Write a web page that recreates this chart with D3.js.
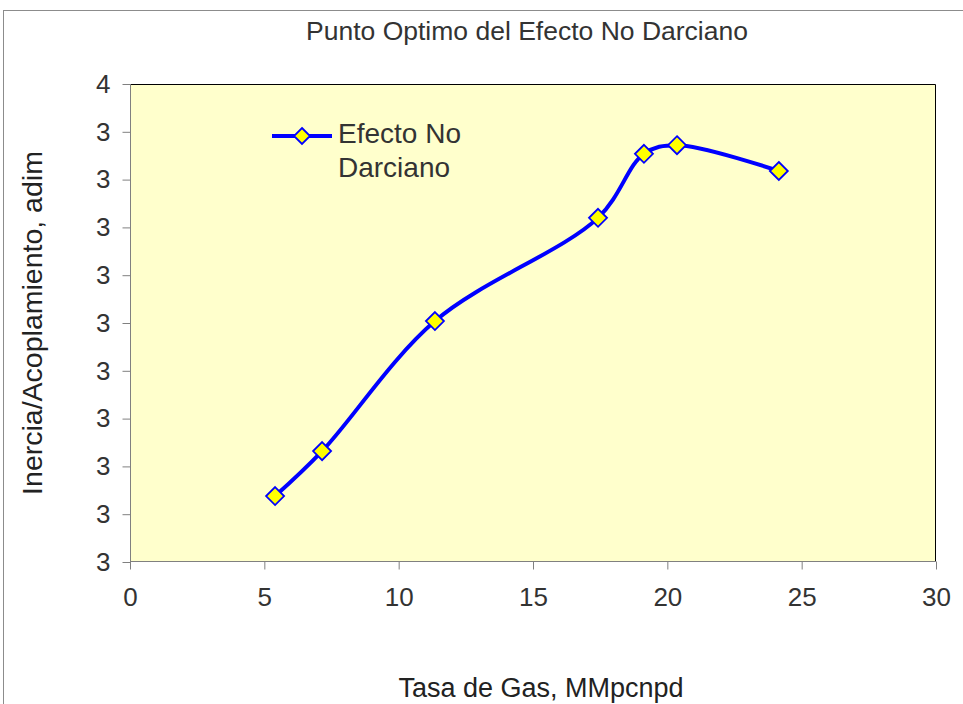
<!DOCTYPE html>
<html>
<head>
<meta charset="utf-8">
<script src="https://cdn.jsdelivr.net/npm/d3@7"></script>
<style>
  html, body { margin: 0; padding: 0; background: #fff; }
  svg { display: block; font-family: "Liberation Sans", Arial, sans-serif; }
</style>
</head>
<body>
<script>
// Gas rate (MMpcnpd) against inertia/coupling ratio
const gasRate = [5.40, 7.15, 11.35, 17.42, 19.13, 20.36, 24.15];
const inertia = [3.069, 3.116, 3.252, 3.360, 3.427, 3.436, 3.409];
const xTicks = [0, 5, 10, 15, 20, 25, 30];
const yTicks = [3.0, 3.05, 3.1, 3.15, 3.2, 3.25, 3.3, 3.35, 3.4, 3.45, 3.5];
const seriesName = ["Efecto No", "Darciano"];
const chartTitle = "Punto Optimo del Efecto No Darciano";
const xTitle = "Tasa de Gas, MMpcnpd";
const yTitle = "Inercia/Acoplamiento, adim";

const W = 963, H = 704;
const plot = { left: 130, top: 84, right: 936, bottom: 562 };
const FONT = "'Liberation Sans', Arial, sans-serif";

const svg = d3.select("body").append("svg").attr("width", W).attr("height", H);

// outer chart frame
svg.append("rect")
  .attr("x", 3.5).attr("y", 10.5).attr("width", W + 10).attr("height", H + 10)
  .attr("fill", "#fff").attr("stroke", "#8c8c8c").attr("stroke-width", 1);

const x = d3.scaleLinear().domain([0, 30]).range([plot.left, plot.right]);
const y = d3.scaleLinear().domain([3.0, 3.5]).range([plot.bottom, plot.top]);

// plot area
svg.append("rect")
  .attr("x", plot.left).attr("y", plot.top)
  .attr("width", plot.right - plot.left).attr("height", plot.bottom - plot.top)
  .attr("fill", "#FFFFCC");
svg.append("path")
  .attr("d", `M${plot.left},${plot.top + 0.5}H${plot.right - 0.5}V${plot.bottom}`)
  .attr("fill", "none").attr("stroke", "#000").attr("stroke-width", 1);

const fmtY = d => String(Math.round(d + 1e-9));

const yAxis = d3.axisLeft(y).tickValues(yTicks).tickFormat(fmtY).tickSize(8).tickPadding(12);
const gy = svg.append("g").attr("transform", `translate(${plot.left + 0.5},0)`).call(yAxis);

const xAxis = d3.axisBottom(x).tickValues(xTicks).tickFormat(d3.format("d")).tickSize(8).tickPadding(18);
const gx = svg.append("g").attr("transform", `translate(0,${plot.bottom - 0.5})`).call(xAxis);

[gx, gy].forEach(g => {
  g.select(".domain").attr("stroke", "#808080");
  g.selectAll(".tick line").attr("stroke", "#808080");
  g.selectAll(".tick text").attr("fill", "#333").style("font-size", "26px")
    .style("font-family", FONT);
});
gx.select(".domain").attr("d", `M${plot.left},0H${plot.right}`);
gy.select(".domain").attr("d", `M0,${plot.top}V${plot.bottom}`);

// titles
svg.append("text").attr("x", 527).attr("y", 40).attr("text-anchor", "middle")
  .attr("fill", "#333").style("font-size", "26.5px").text(chartTitle);
svg.append("text").attr("x", 541).attr("y", 697).attr("text-anchor", "middle")
  .attr("fill", "#222").style("font-size", "27px").text(xTitle);
svg.append("text").attr("transform", `translate(42,${(plot.top + plot.bottom) / 2}) rotate(-90)`)
  .attr("text-anchor", "middle").attr("fill", "#222").style("font-size", "28.5px").text(yTitle);

// series line
const pts = gasRate.map((g, i) => [x(g), y(inertia[i])]);
svg.append("path")
  .attr("d", d3.line().curve(d3.curveCatmullRom.alpha(0.5))(pts))
  .attr("fill", "none").attr("stroke", "#0000FF").attr("stroke-width", 4)
  .attr("stroke-linejoin", "round");

const diamond = (cx, cy, r) => `M${cx},${cy - r}L${cx + r},${cy}L${cx},${cy + r}L${cx - r},${cy}Z`;

svg.append("g").selectAll("path").data(pts).join("path")
  .attr("d", d => diamond(d[0], d[1], 9))
  .attr("fill", "#FFFF00").attr("stroke", "#0000FF").attr("stroke-width", 1.8);

// legend
const lg = svg.append("g");
lg.append("line").attr("x1", 272).attr("x2", 332).attr("y1", 136).attr("y2", 136)
  .attr("stroke", "#0000FF").attr("stroke-width", 4);
lg.append("path").attr("d", diamond(302, 136, 8))
  .attr("fill", "#FFFF00").attr("stroke", "#0000FF").attr("stroke-width", 1.8);
lg.selectAll("text").data(seriesName).join("text")
  .attr("x", 338).attr("y", (d, i) => 143 + i * 34)
  .attr("fill", "#333").style("font-size", "28px").text(d => d);
</script>
</body>
</html>
